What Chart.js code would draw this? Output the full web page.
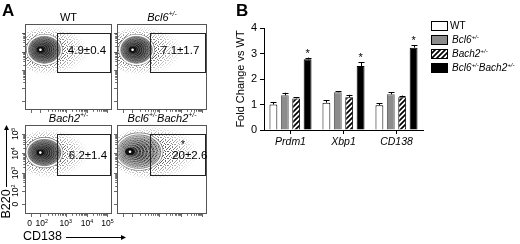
<!DOCTYPE html>
<html><head><meta charset="utf-8">
<script src="https://cdn.jsdelivr.net/npm/chart.js@4.4.0/dist/chart.umd.min.js"></script>
<style>
html,body{margin:0;padding:0;background:#fff;}
#wrap{position:relative;width:520px;height:244px;overflow:hidden;background:#fff;}
#wrap canvas{position:absolute;left:0;top:0;}
</style></head><body>
<div id="wrap">
<canvas id="f0" width="520" height="244"></canvas>
<canvas id="f1" width="520" height="244"></canvas>
<canvas id="f2" width="520" height="244"></canvas>
<canvas id="f3" width="520" height="244"></canvas>
<canvas id="bar" width="520" height="244"></canvas>
</div>
<script>
// ---------------- data: panel B (qPCR fold change) ----------------
const genes = ['Prdm1', 'Xbp1', 'CD138'];
const genotypeLabels = [[['WT', '']], [['Bcl6', '+/-']], [['Bach2', '+/-']], [['Bcl6', '+/-'], ['Bach2', '+/-']]];
const wtFold    = [1.00, 1.07, 0.97];
const bcl6Fold  = [1.36, 1.48, 1.40];
const bach2Fold = [1.24, 1.28, 1.28];
const dkoFold   = [2.77, 2.51, 3.23];
const wtErr    = [0.10, 0.10, 0.08];
const bcl6Err  = [0.10, 0.03, 0.08];
const bach2Err = [0.05, 0.10, 0.07];
const dkoErr   = [0.07, 0.15, 0.10];
const significant = [false, false, false, true];
const foldTicks = [0, 1, 2, 3, 4];

// ---------------- data: panel A (flow plots) ----------------
const flowTitles = [[['WT', '']], [['Bcl6', '+/-']], [['Bach2', '+/-']], [['Bcl6', '+/-'], ['Bach2', '+/-']]];
const flowPercent = ['4.9±0.4', '7.1±1.7', '6.2±1.4', '20±2.6'];
const flowStar = [false, false, false, true];
const gateCD138 = [1.42, 4.3];   // x range of gate (display units)
const gateB220 = [1.72, 4.0];    // y range of gate
const cd138TickPos = [0, 0.5, 1.9, 3.05, 4.15];
const b220TickPos = [0.05, 0.8, 1.8, 2.9, 4.0];
const flowTickText = [['0', ''], ['10', '2'], ['10', '3'], ['10', '4'], ['10', '5']];
// B cell population (contour body) per panel, in display units
const popX  = [0.75, 0.72, 0.75, 0.85];
const popY  = [3.0, 3.0, 2.95, 3.0];
const popRX = [0.92, 0.88, 0.95, 1.2];
const popRY = [0.85, 0.85, 0.8, 1.0];
// diffuse events spreading toward the gate
const dustX  = [1.3, 1.3, 1.3, 1.9];
const dustY  = [2.95, 2.95, 2.9, 2.95];
const dustRX = [2.3, 2.3, 2.3, 2.6];
const dustRY = [1.45, 1.45, 1.4, 1.55];
const labelX = [3.05, 3.0, 3.1, 3.5];
const labelY = [3.0, 3.0, 2.85, 2.85];

const FONT = '"Liberation Sans", Arial, Helvetica, sans-serif';
Chart.defaults.font.family = FONT;
Chart.defaults.color = '#000';

function drawRich(ctx, segs, x, y, size, italic, align) {
  const st = italic ? 'italic ' : '';
  const sup = size * 0.62;
  const parts = []; let total = 0;
  segs.forEach(([b, s]) => {
    ctx.font = st + size + 'px ' + FONT; const wb = ctx.measureText(b).width;
    ctx.font = st + sup + 'px ' + FONT; const ws = s ? ctx.measureText(s).width : 0;
    parts.push([b, wb, s, ws]); total += wb + ws;
  });
  let cx = align === 'center' ? x - total / 2 : (align === 'right' ? x - total : x);
  ctx.textAlign = 'left'; ctx.textBaseline = 'alphabetic';
  parts.forEach(([b, wb, s, ws]) => {
    ctx.font = st + size + 'px ' + FONT; ctx.fillText(b, cx, y); cx += wb;
    if (s) { ctx.font = st + sup + 'px ' + FONT; ctx.fillText(s, cx, y - size * 0.4); cx += ws; }
  });
}

function hatchPattern() {
  const c = document.createElement('canvas'); c.width = 5; c.height = 5;
  const g = c.getContext('2d');
  g.fillStyle = '#fff'; g.fillRect(0, 0, 5, 5);
  g.strokeStyle = '#000'; g.lineWidth = 1.7;
  g.beginPath(); g.moveTo(-1, 6); g.lineTo(6, -1); g.moveTo(-1, 1); g.lineTo(1, -1); g.moveTo(4, 6); g.lineTo(6, 4); g.stroke();
  return g.createPattern(c, 'repeat');
}
function dotPattern(ctx) {
  const rows = ['1000100', '0010001', '0100010', '0001000', '1000101', '0010000', '0100100'];
  const c = document.createElement('canvas'); c.width = 7; c.height = 7;
  const g = c.getContext('2d'); g.fillStyle = '#000';
  rows.forEach((r, j) => { for (let i = 0; i < r.length; i++) if (r[i] === '1') g.fillRect(i, j, 1, 1); });
  return ctx.createPattern(c, 'repeat');
}

function makeFlowPlugin(p) {
  return {
    id: 'flow' + p,
    afterDraw(chart) {
      const { ctx, chartArea: a, scales: { x, y } } = chart;
      const ux = (x.getPixelForValue(1) - x.getPixelForValue(0));
      const uy = (y.getPixelForValue(0) - y.getPixelForValue(1));
      ctx.save();
      ctx.beginPath(); ctx.rect(a.left, a.top, a.right - a.left, a.bottom - a.top); ctx.clip();
      // diffuse events as dotted texture
      const off = document.createElement('canvas'); off.width = chart.width; off.height = chart.height;
      const o = off.getContext('2d');
      const dcx = x.getPixelForValue(dustX[p]), dcy = y.getPixelForValue(dustY[p]);
      o.save(); o.translate(dcx, dcy); o.scale(dustRX[p] * ux, dustRY[p] * uy);
      const gr = o.createRadialGradient(-0.35, 0, 0, -0.2, 0, 1);
      gr.addColorStop(0, 'rgba(40,40,40,1)'); gr.addColorStop(0.5, 'rgba(70,70,70,0.85)'); gr.addColorStop(1, 'rgba(120,120,120,0)');
      o.fillStyle = gr; o.beginPath(); o.arc(0, 0, 1, 0, Math.PI * 2); o.fill(); o.restore();
      o.globalCompositeOperation = 'destination-in';
      o.fillStyle = dotPattern(o); o.fillRect(0, 0, off.width, off.height);
      ctx.drawImage(off, 0, 0);
      // contour body
      const cx = x.getPixelForValue(popX[p]), cy = y.getPixelForValue(popY[p]);
      const rx = popRX[p] * ux, ry = popRY[p] * uy;
      const N = 9;
      const shift = p === 3 ? 0.5 : 0.3;
      for (let k = 0; k < N; k++) {
        const f = 1 - k / N * 0.88;
        const ex = cx - (1 - f) * rx * shift;
        ctx.beginPath(); ctx.ellipse(ex, cy, rx * f, ry * f, 0, 0, Math.PI * 2);
        if (k === 0) {
          ctx.fillStyle = p === 3 ? 'rgba(110,110,110,0.55)' : 'rgba(90,90,90,0.7)';
          ctx.fill();
          ctx.strokeStyle = '#777'; ctx.lineWidth = 2.6; ctx.stroke();
          ctx.strokeStyle = '#fff'; ctx.lineWidth = 1.4; ctx.stroke();
        } else {
          ctx.fillStyle = p === 3 ? 'rgba(0,0,0,0.13)' : 'rgba(0,0,0,0.2)';
          ctx.fill();
          ctx.strokeStyle = p === 3 ? 'rgba(235,235,235,0.8)' : 'rgba(190,190,190,0.55)'; ctx.lineWidth = 0.7; ctx.stroke();
        }
        if (k === N - 1) {
          ctx.fillStyle = '#111'; ctx.fill();
          ctx.fillStyle = '#fff'; ctx.beginPath(); ctx.arc(ex, cy, 1.3, 0, Math.PI * 2); ctx.fill();
        }
      }
      ctx.restore();
      // gate
      ctx.save();
      const gx0 = x.getPixelForValue(gateCD138[0]), gx1 = x.getPixelForValue(gateCD138[1]);
      const gy0 = y.getPixelForValue(gateB220[1]), gy1 = y.getPixelForValue(gateB220[0]);
      ctx.strokeStyle = '#222'; ctx.lineWidth = 1;
      ctx.strokeRect(Math.round(gx0) + 0.5, Math.round(gy0) + 0.5, Math.round(gx1 - gx0), Math.round(gy1 - gy0));
      // frame
      ctx.strokeStyle = '#555';
      ctx.strokeRect(a.left + 0.5, a.top + 0.5, a.right - a.left - 1, a.bottom - a.top - 1);
      // ticks (outside)
      ctx.strokeStyle = '#444'; ctx.lineWidth = 0.8;
      const xt = (v, len) => { const px = Math.round(x.getPixelForValue(v)) + 0.5; ctx.beginPath(); ctx.moveTo(px, a.bottom); ctx.lineTo(px, a.bottom + len); ctx.stroke(); };
      const yt = (v, len) => { const py = Math.round(y.getPixelForValue(v)) + 0.5; ctx.beginPath(); ctx.moveTo(a.left, py); ctx.lineTo(a.left - len, py); ctx.stroke(); };
      cd138TickPos.forEach((v, i) => {
        xt(v, 3);
        if (i >= 1 && i < cd138TickPos.length - 1) for (let m = 2; m <= 9; m++) xt(v + (cd138TickPos[i + 1] - v) * Math.log10(m), 1.8);
      });
      b220TickPos.forEach((v, i) => {
        yt(v, 3);
        if (i >= 1 && i < b220TickPos.length - 1) for (let m = 2; m <= 9; m++) yt(v + (b220TickPos[i + 1] - v) * Math.log10(m), 1.8);
      });
      // percentage label
      ctx.fillStyle = '#000';
      ctx.font = '11.5px ' + FONT; ctx.textAlign = 'center'; ctx.textBaseline = 'middle';
      ctx.fillText(flowPercent[p], x.getPixelForValue(labelX[p]), y.getPixelForValue(labelY[p]) + 1);
      if (flowStar[p]) { ctx.font = '10px ' + FONT; ctx.fillText('*', x.getPixelForValue(3.15), y.getPixelForValue(3.35)); }
      // title
      drawRich(ctx, flowTitles[p], (a.left + a.right) / 2, a.top - 3.5, 11, p !== 0, 'center');
      if (p === 2) {
        // axis tick labels
        cd138TickPos.forEach((v, i) => {
          const px = x.getPixelForValue(v);
          drawRich(ctx, [flowTickText[i]], px + (i === 0 ? -1 : (i === 1 ? 2 : 0)), a.bottom + 12, 8.5, false, 'center');
        });
        b220TickPos.forEach((v, i) => {
          ctx.save(); ctx.translate(a.left - 7, y.getPixelForValue(v)); ctx.rotate(-Math.PI / 2);
          drawRich(ctx, [flowTickText[i]], 0, 0, 8.5, false, 'center'); ctx.restore();
        });
        // axis names with arrows
        ctx.font = '12.5px ' + FONT; ctx.textAlign = 'left'; ctx.textBaseline = 'middle';
        ctx.fillStyle = '#000';
        ctx.fillText('CD138', a.left - 2, a.bottom + 23);
        const aw = ctx.measureText('CD138').width;
        ctx.strokeStyle = '#000'; ctx.lineWidth = 1;
        const ay = Math.round(a.bottom + 23) + 0.5;
        ctx.beginPath(); ctx.moveTo(a.left + aw + 2, ay); ctx.lineTo(a.right + 12, ay); ctx.stroke();
        ctx.beginPath(); ctx.moveTo(a.right + 14, ay); ctx.lineTo(a.right + 9, ay - 2.5); ctx.lineTo(a.right + 9, ay + 2.5); ctx.closePath(); ctx.fill();
        ctx.save(); ctx.translate(a.left - 18, a.bottom - 10); ctx.rotate(-Math.PI / 2);
        ctx.textAlign = 'center'; ctx.fillText('B220', 0, 0); ctx.restore();
        const bx = Math.round(a.left - 19) + 0.5;
        ctx.beginPath(); ctx.moveTo(bx, a.bottom - 27); ctx.lineTo(bx, a.top + 3); ctx.stroke();
        ctx.beginPath(); ctx.moveTo(bx, a.top); ctx.lineTo(bx - 2.5, a.top + 5); ctx.lineTo(bx + 2.5, a.top + 5); ctx.closePath(); ctx.fill();
        // panel letters
        ctx.font = 'bold 17px ' + FONT; ctx.textAlign = 'left'; ctx.textBaseline = 'alphabetic';
        ctx.fillText('A', 2, 16);
        ctx.fillText('B', 236, 16);
      }
      ctx.restore();
    }
  };
}

const panelBoxes = [[25, 24, 112, 110], [117, 24, 207, 110], [25, 125, 112, 214], [117, 125, 207, 214]];
panelBoxes.forEach((b, p) => {
  new Chart(document.getElementById('f' + p), {
    type: 'scatter',
    data: { datasets: [{ data: [] }] },
    options: {
      responsive: false, animation: false,
      layout: { padding: { left: b[0], top: b[1], right: 520 - b[2], bottom: 244 - b[3] } },
      plugins: { legend: { display: false }, tooltip: { enabled: false } },
      scales: {
        x: { type: 'linear', min: -0.3, max: 4.4, display: false },
        y: { type: 'linear', min: -0.5, max: 4.5, display: false }
      }
    },
    plugins: [makeFlowPlugin(p)]
  });
});

// ---------------- panel B ----------------
const errorPlugin = {
  id: 'errbars',
  afterDatasetsDraw(chart) {
    const { ctx, scales: { y } } = chart;
    ctx.save();
    ctx.strokeStyle = '#000'; ctx.lineWidth = 1; ctx.fillStyle = '#000';
    chart.data.datasets.forEach((ds, i) => {
      chart.getDatasetMeta(i).data.forEach((el, j) => {
        const v = ds.data[j], e = ds.err[j];
        const top = y.getPixelForValue(v + e);
        const xx = Math.round(el.x) + 0.5;
        ctx.beginPath(); ctx.moveTo(xx, el.y); ctx.lineTo(xx, top);
        ctx.moveTo(xx - 3, Math.round(top) + 0.5); ctx.lineTo(xx + 3, Math.round(top) + 0.5); ctx.stroke();
        if (significant[i]) {
          ctx.font = '11px ' + FONT; ctx.textAlign = 'center'; ctx.textBaseline = 'alphabetic';
          ctx.fillText('*', el.x, top - 1);
        }
      });
    });
    ctx.restore();
  }
};
const legendPlugin = {
  id: 'richLegend',
  afterDraw(chart) {
    const { ctx } = chart;
    ctx.save();
    chart.data.datasets.forEach((ds, i) => {
      const cy = 25.5 + i * 14;
      ctx.fillStyle = ds.backgroundColor;
      ctx.fillRect(431, cy - 4.5, 17, 9);
      ctx.strokeStyle = '#000'; ctx.lineWidth = 1;
      ctx.strokeRect(431.5, Math.round(cy - 4.5) + 0.5, 16, 9);
      ctx.fillStyle = '#000';
      drawRich(ctx, genotypeLabels[i], i === 0 ? 450 : 452, cy + 3.6, 10, i !== 0, 'left');
    });
    ctx.restore();
  }
};

new Chart(document.getElementById('bar'), {
  type: 'bar',
  data: {
    labels: genes,
    datasets: [
      { label: 'WT', data: wtFold, err: wtErr, backgroundColor: '#ffffff', borderColor: '#000', borderWidth: 1 },
      { label: 'Bcl6+/-', data: bcl6Fold, err: bcl6Err, backgroundColor: '#8c8c8c', borderColor: '#555', borderWidth: 1 },
      { label: 'Bach2+/-', data: bach2Fold, err: bach2Err, backgroundColor: hatchPattern(), borderColor: '#000', borderWidth: 1 },
      { label: 'Bcl6+/-Bach2+/-', data: dkoFold, err: dkoErr, backgroundColor: '#000000', borderColor: '#000', borderWidth: 1 }
    ]
  },
  options: {
    responsive: false, animation: false,
    layout: { padding: { left: 234, top: 28, right: 97, bottom: 0 } },
    plugins: { legend: { display: false }, tooltip: { enabled: false } },
    datasets: { bar: { categoryPercentage: 0.86, barPercentage: 0.69 } },
    scales: {
      x: {
        offset: true,
        grid: { display: true, drawOnChartArea: false, offset: false, tickLength: 4, color: '#000' },
        border: { color: '#000', width: 1 },
        ticks: { font: { size: 10.5, style: 'italic' }, color: '#000', padding: 2 },
        afterFit: s => { s.height = 114; }
      },
      y: {
        min: 0, max: 4,
        afterBuildTicks: s => { s.ticks = foldTicks.map(v => ({ value: v })); },
        ticks: { font: { size: 11 }, color: '#000', padding: 3 },
        grid: { drawOnChartArea: false, tickLength: 4, color: '#000' },
        border: { color: '#000', width: 1 },
        title: { display: true, text: 'Fold Change vs WT', font: { size: 11 }, color: '#000', padding: 0 },
        afterFit: s => { s.width = 30; }
      }
    }
  },
  plugins: [errorPlugin, legendPlugin]
});
</script>
</body></html>
